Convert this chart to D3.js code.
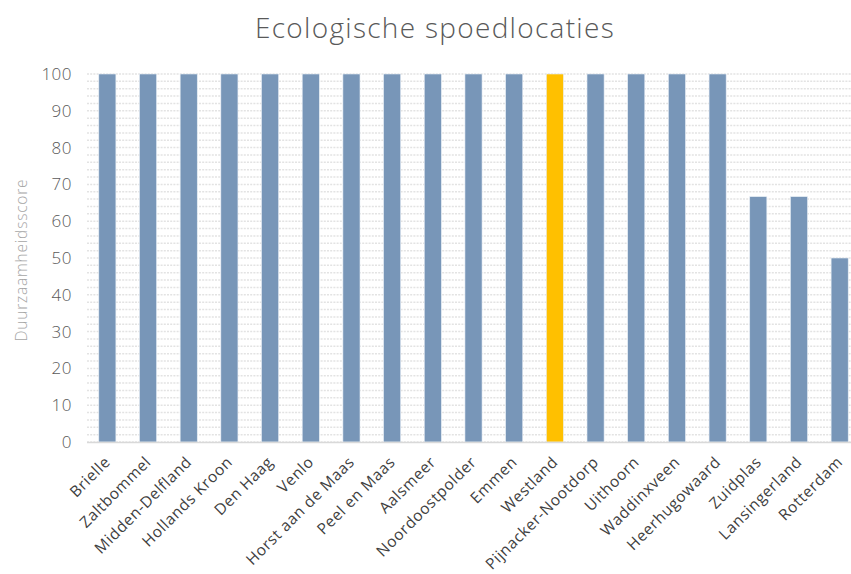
<!DOCTYPE html>
<html><head><meta charset="utf-8">
<script src="https://cdn.jsdelivr.net/npm/d3@7"></script>
<style>body{margin:0;background:#fff}svg{display:block}text{font-family:"Open Sans",sans-serif;font-weight:300}</style>
</head><body><svg id="c" width="851" height="574"></svg>
<script>
const categories=["Brielle","Zaltbommel","Midden-Delfland","Hollands Kroon","Den Haag","Venlo","Horst aan de Maas","Peel en Maas","Aalsmeer","Noordoostpolder","Emmen","Westland","Pijnacker-Nootdorp","Uithoorn","Waddinxveen","Heerhugowaard","Zuidplas","Lansingerland","Rotterdam"];
const values=[100,100,100,100,100,100,100,100,100,100,100,100,100,100,100,100,66.67,66.67,50];
const highlight=["Westland"];
const yTicks=[0,10,20,30,40,50,60,70,80,90,100];
(function(){
const svg=d3.select("#c");
const pLeft=87,pRight=860,pTop=74,pBottom=442;
const x=d3.scaleBand().domain(categories).range([pLeft,pRight]).paddingInner(0.58).paddingOuter(0.29);
const y=d3.scaleLinear().domain([0,100]).range([pBottom,pTop]);
const grid=d3.range(0,101,2);
svg.append("g").selectAll("line").data(grid).join("line")
 .attr("x1",pLeft).attr("x2",851).attr("y1",d=>y(d)).attr("y2",d=>y(d))
 .attr("stroke","#e3e3e3").attr("stroke-width",1.5).attr("stroke-dasharray","2,1.2");
svg.append("g").selectAll("rect").data(categories).join("rect")
 .attr("x",d=>x(d)).attr("width",x.bandwidth())
 .attr("y",(d,i)=>y(values[i])).attr("height",(d,i)=>y(0)-y(values[i]))
 .attr("fill",d=>highlight.includes(d)?"#FFC000":"#7896B8")
 .attr("stroke","#e8eef5").attr("stroke-width",0.6);
svg.append("line").attr("x1",pLeft).attr("x2",851).attr("y1",y(0)+0.5).attr("y2",y(0)+0.5).attr("stroke","#d9d9d9").attr("stroke-width",1.5);
const ya=svg.append("g").attr("transform",`translate(72,0)`).call(d3.axisLeft(y).tickValues(yTicks).tickSize(0).tickPadding(0));
ya.select(".domain").remove();
ya.selectAll("text").attr("font-size",17).attr("fill","#595959").style("font-family","'Open Sans',sans-serif").style("font-weight",300).style("letter-spacing","0.5px");
const xa=svg.append("g").attr("transform",`translate(0,${pBottom})`).call(d3.axisBottom(x).tickSize(0).tickPadding(0));
xa.select(".domain").remove();
xa.selectAll("text").attr("font-size",15.5).attr("fill","#404040")
 .style("font-family","'Open Sans',sans-serif").style("font-weight",400).style("letter-spacing","0.6px")
 .attr("text-anchor","end").attr("dy",0).attr("transform","translate(4,21) rotate(-45)");
svg.append("text").attr("transform",`translate(27,260) rotate(-90)`).attr("text-anchor","middle")
 .attr("font-size",15.5).style("letter-spacing","0.8px").attr("fill","#a6a6a6").text("Duurzaamheidsscore");
svg.append("text").attr("x",435).attr("y",38).attr("text-anchor","middle").attr("font-size",28).style("letter-spacing","1.3px").attr("fill","#595959").text("Ecologische spoedlocaties");
})();
</script></body></html>
